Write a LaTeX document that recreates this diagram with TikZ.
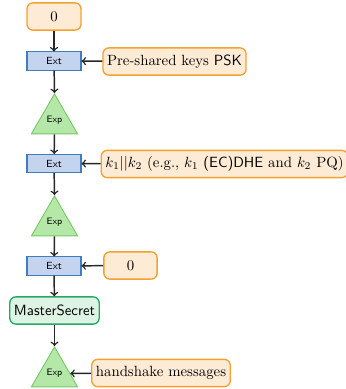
\documentclass[tikz,border=0pt]{standalone}
\usetikzlibrary{shapes.geometric}
\definecolor{orfill}{HTML}{FDEBD5}
\definecolor{ordraw}{HTML}{F5A030}
\definecolor{blfill}{HTML}{C4D4EF}
\definecolor{bldraw}{HTML}{3C7EC0}
\definecolor{grfill}{HTML}{DDF3E3}
\definecolor{grdraw}{HTML}{26A865}
\definecolor{trfill}{HTML}{B5E8A8}
\definecolor{trdraw}{HTML}{74C864}
\tikzset{
  inbox/.style={draw=ordraw, fill=orfill, line width=0.9pt, rounded corners=4pt, minimum height=18.4pt, inner xsep=2.8pt, inner ysep=0pt},
  extbox/.style={draw=bldraw, fill=blfill, line width=0.7pt, minimum width=36.5pt, minimum height=12.2pt, inner sep=0pt, font=\sffamily\scriptsize},
  expbox/.style={regular polygon, regular polygon sides=3, draw=trdraw, fill=trfill, line width=0.6pt, minimum size=36pt, inner sep=0pt, anchor=corner 1},
  explabel/.style={font=\sffamily\fontsize{6.3}{7}\selectfont},
  msbox/.style={draw=grdraw, fill=grfill, line width=0.9pt, rounded corners=4pt, minimum height=18.4pt, inner xsep=2.8pt, inner ysep=0pt, font=\sffamily},
  conn/.style={->, line width=1pt, black!85}
}
\begin{document}
\begin{tikzpicture}[x=0.6757pt, y=-0.6757pt]
\useasboundingbox (0,0) rectangle (345,389);
\node[inbox, minimum width=36.5pt] (z1) at (54,16.5) {$0$};
\node[extbox] (e1) at (54,61) {Ext};
\node[inbox] (psk) at (174.5,61.5) {Pre-shared keys \textsf{PSK}};
\node[expbox] (x1) at (54.5,93) {};
\node[explabel] (l1) at (x1.center) {Exp};
\node[extbox] (e2) at (54,163.5) {Ext};
\node[inbox, minimum width=162.5pt] (k) at (224.5,164) {$k_1||k_2$ (e.g., $k_1$ \textsf{(EC)DHE} and $k_2$ PQ)};
\node[expbox] (x2) at (54.5,195) {};
\node[explabel] (l2) at (x2.center) {Exp};
\node[extbox] (e3) at (54,266) {Ext};
\node[inbox, minimum width=36pt] (z2) at (130.5,265.5) {$0$};
\node[msbox, minimum width=60pt] (ms) at (54.5,310.5) {MasterSecret};
\node[expbox] (x3) at (54.5,346) {};
\node[explabel] (l3) at (x3.center) {Exp};
\node[inbox] (hs) at (161,373) {handshake messages};
\draw[conn] (z1) -- (e1);
\draw[conn] (psk) -- (e1);
\draw[conn] (e1) -- (x1.corner 1);
\draw[conn] (x1.south) -- (e2);
\draw[conn] (k) -- (e2);
\draw[conn] (e2) -- (x2.corner 1);
\draw[conn] (x2.south) -- (e3);
\draw[conn] (z2) -- (e3);
\draw[conn] (e3) -- (ms);
\draw[conn] (ms) -- (x3.corner 1);
\draw[conn] (hs) -- (x3);
\end{tikzpicture}
\end{document}
